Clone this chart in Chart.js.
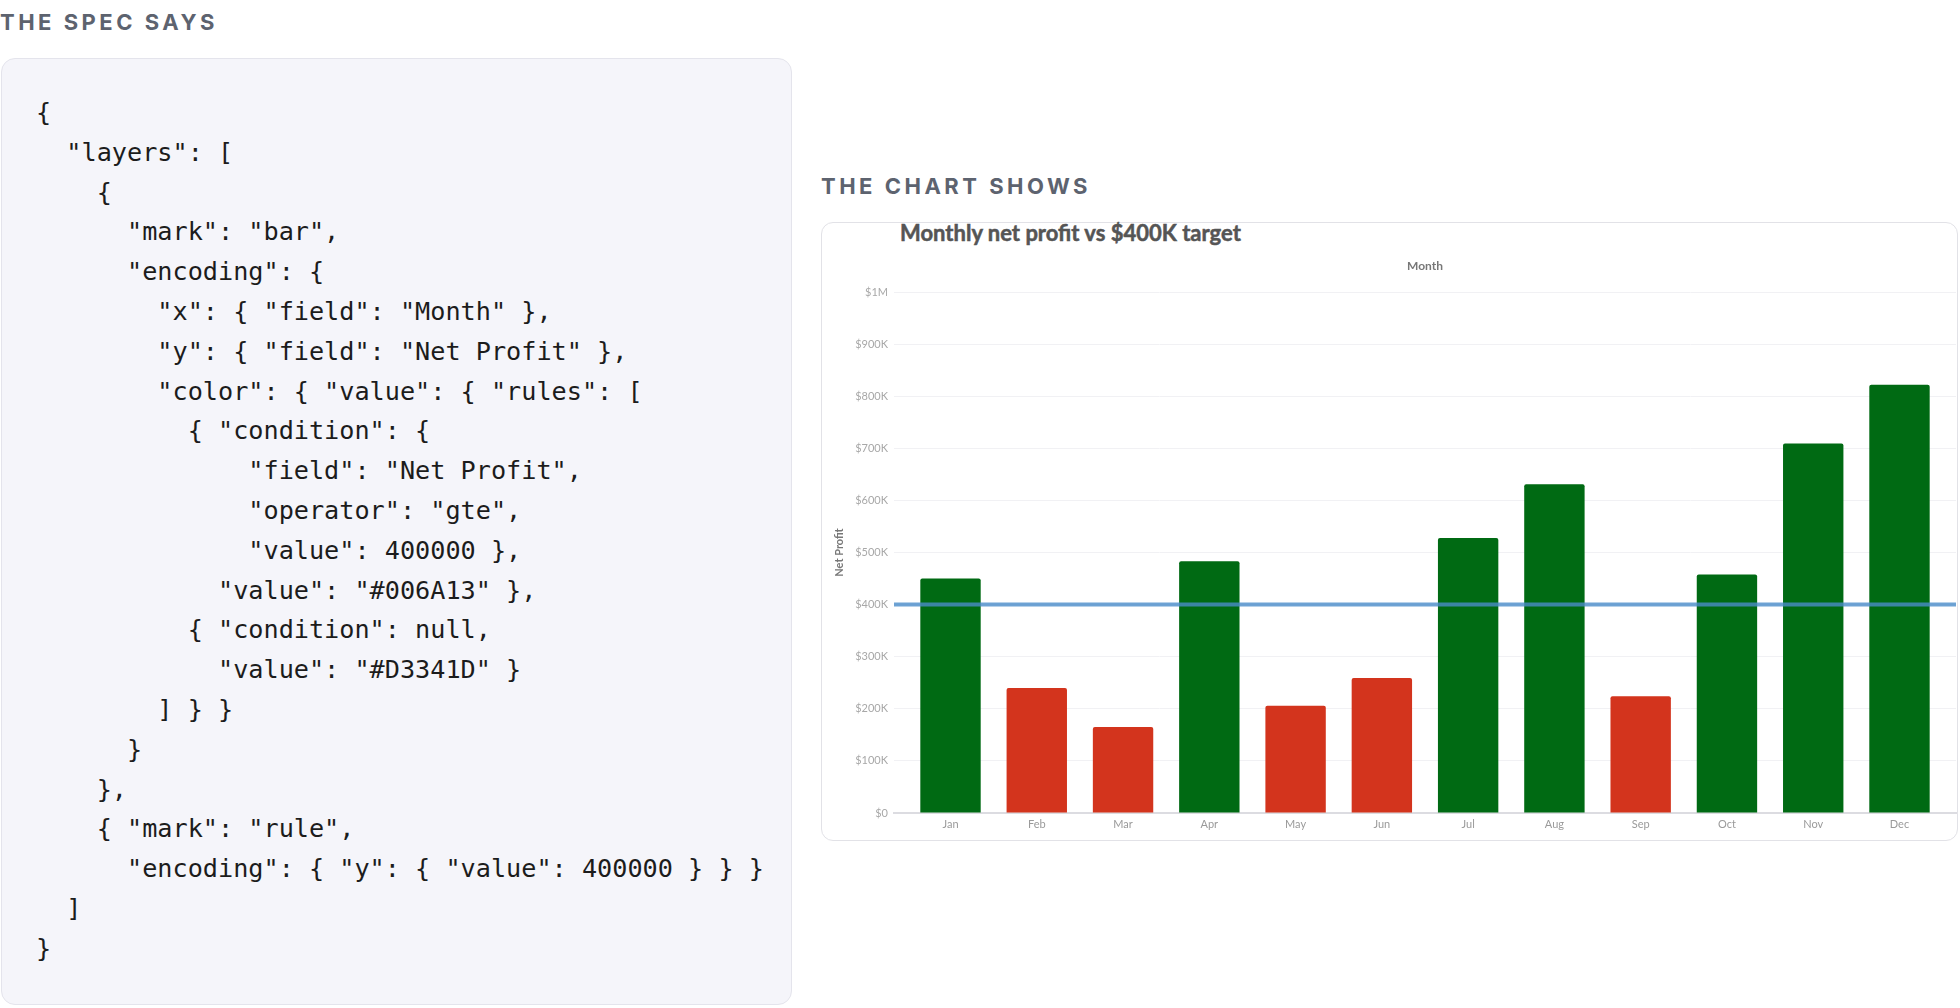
<!DOCTYPE html>
<html>
<head>
<meta charset="utf-8">
<script src="https://cdn.jsdelivr.net/npm/chart.js@4"></script>
<style>
  html, body { margin: 0; padding: 0; background: #fff; width: 1960px; height: 1008px; overflow: hidden; }
  .heading { position: absolute; font-family: Inter, sans-serif; font-weight: 700; font-size: 22px; line-height: 22px; letter-spacing: 3.5px; color: #5d636f; }
  #specHeading { left: 0; top: 11px; }
  #chartHeading { left: 821px; top: 175px; }
  .codeBox { position: absolute; left: 1px; top: 58px; width: 791px; height: 947px; box-sizing: border-box;
             background: #f5f5fa; border: 1.5px solid #e4e4ec; border-radius: 14px; }
  .codeBox pre { margin: 0; padding: 34px 0 0 34px; font-family: "DejaVu Sans Mono", monospace; font-size: 25.2px; line-height: 39.8px; color: #1c1c1c; }
  .card { position: absolute; left: 821px; top: 222px; width: 1137px; height: 619px; box-sizing: border-box;
          border: 1.5px solid #e2e2e7; border-radius: 12px; background: #fff; }
  .chartTitle { position: absolute; left: 900px; top: 220px; font-family: Lato, sans-serif; font-weight: 700; font-size: 22px; line-height: 26px;
                color: #555; -webkit-text-stroke: 0.5px #555; }
  #wrap { position: absolute; left: 821px; top: 222px; width: 1137px; height: 619px; }
</style>
</head>
<body>
<div class="heading" id="specHeading">THE SPEC SAYS</div>
<div class="codeBox"><pre>{
  "layers": [
    {
      "mark": "bar",
      "encoding": {
        "x": { "field": "Month" },
        "y": { "field": "Net Profit" },
        "color": { "value": { "rules": [
          { "condition": {
              "field": "Net Profit",
              "operator": "gte",
              "value": 400000 },
            "value": "#006A13" },
          { "condition": null,
            "value": "#D3341D" }
        ] } }
      }
    },
    { "mark": "rule",
      "encoding": { "y": { "value": 400000 } } }
  ]
}</pre></div>

<div class="heading" id="chartHeading">THE CHART SHOWS</div>
<div class="card"></div>
<div class="chartTitle">Monthly net profit vs $400K target</div>
<div id="wrap"><canvas id="profitChart"></canvas></div>

<script>
// data
const months = ['Jan', 'Feb', 'Mar', 'Apr', 'May', 'Jun', 'Jul', 'Aug', 'Sep', 'Oct', 'Nov', 'Dec'];
const netProfit = [450000, 240000, 165000, 483000, 206000, 259000, 528000, 631000, 224000, 458000, 709000, 822000];
const targetValue = 400000;
const yMax = 1000000;
const yStep = 100000;

// colour rule from the spec
const aboveColor = '#006A13';
const belowColor = '#D3341D';

// x runs a little past the first / last band, like the original
const xMin = -0.655;
const xMax = months.length - 1 + 0.655;

const money = (v) => {
  if (v === 0) return '$0';
  if (v >= 1000000) return '$' + (v / 1000000) + 'M';
  return '$' + (v / 1000) + 'K';
};

Chart.defaults.font.family = 'Lato';

const ctx = document.getElementById('profitChart');

window.profitChart = new Chart(ctx, {
  type: 'bar',
  data: {
    datasets: [
      {
        type: 'line',
        label: 'Target',
        data: [{ x: xMin, y: targetValue }, { x: xMax, y: targetValue }],
        borderColor: 'rgba(74, 140, 201, 0.8)',
        borderWidth: 4,
        pointRadius: 0,
        fill: false,
        order: 1,
      },
      {
        type: 'bar',
        label: 'Net Profit',
        data: netProfit.map((v, i) => ({ x: i, y: v })),
        backgroundColor: netProfit.map((v) => (v >= targetValue ? aboveColor : belowColor)),
        categoryPercentage: 0.7,
        barPercentage: 1,
        borderRadius: 2,
        borderSkipped: 'bottom',
        order: 2,
      },
    ],
  },
  options: {
    animation: false,
    responsive: true,
    maintainAspectRatio: false,
    layout: { padding: { top: 30, right: 2, bottom: 0, left: 0 } },
    plugins: {
      legend: { display: false },
      tooltip: { enabled: false },
    },
    scales: {
      x: {
        type: 'linear',
        offset: false,
        min: xMin,
        max: xMax,
        grid: { display: false, drawTicks: false },
        border: { display: true, color: '#dcdce1', width: 2 },
        afterBuildTicks: (s) => { s.ticks = months.map((m, i) => ({ value: i })); },
        ticks: {
          padding: 5,
          color: '#9a9a9a',
          font: { size: 11 },
          maxRotation: 0,
          autoSkip: false,
          callback: (v) => months[v],
        },
        afterFit: (s) => { s.height = 28; },
      },
      x2: {
        type: 'category',
        labels: months,
        position: 'top',
        grid: { display: false, drawTicks: false },
        border: { display: false },
        ticks: { display: false },
        title: {
          display: true,
          text: 'Month',
          color: '#777',
          font: { size: 12, weight: 'bold' },
          padding: { top: 7, bottom: 0 },
        },
        afterFit: (s) => { s.height = 40; },
      },
      y: {
        min: 0,
        max: yMax,
        ticks: {
          stepSize: yStep,
          padding: 6,
          color: '#a8a8a8',
          font: { size: 11 },
          callback: (v) => money(v),
        },
        grid: { color: '#f1f1f4', drawTicks: false },
        border: { display: false },
        title: {
          display: true,
          text: 'Net Profit',
          color: '#777',
          font: { size: 11, weight: 'bold' },
          padding: { top: 12, bottom: 0 },
        },
        afterFit: (s) => { s.width = 73; },
      },
    },
  },
});
</script>
</body>
</html>
